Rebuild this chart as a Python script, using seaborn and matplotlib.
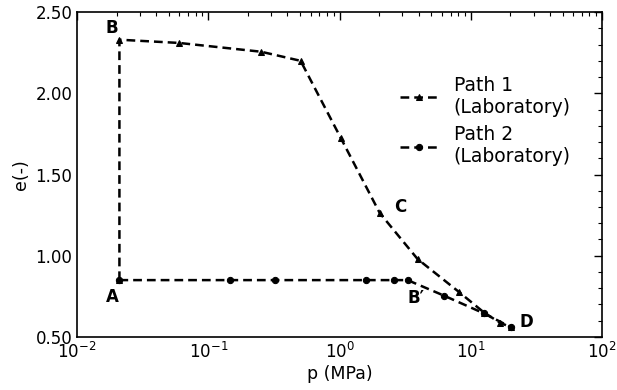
import numpy as np
import pandas as pd
import seaborn as sns
import matplotlib
matplotlib.use("Agg")
import matplotlib.pyplot as plt
from matplotlib.ticker import MultipleLocator, LogLocator, NullFormatter

# Path 1 (triangles)
p1 = [0.021, 0.021, 0.060, 0.252, 0.504, 1.02, 2.02, 3.92, 8.05, 12.6, 16.6, 20.2]
e1 = [0.85, 2.33, 2.31, 2.256, 2.20, 1.725, 1.263, 0.98, 0.779, 0.65, 0.588, 0.56]
# Path 2 (circles)
p2 = [0.021, 0.146, 0.319, 1.58, 2.6, 3.29, 6.25, 12.5, 20.2]
e2 = [0.85, 0.85, 0.85, 0.85, 0.85, 0.85, 0.754, 0.646, 0.56]

labels = ["Path 1\n(Laboratory)", "Path 2\n(Laboratory)"]
point_names = ["A", "B", "C", "B\u2032", "D"]
point_pos = [(0.0165, 0.745), (0.0165, 2.40), (2.6, 1.30), (3.3, 0.74), (23.5, 0.595)]

sns.set_style("white")
plt.rcParams['font.family'] = 'sans-serif'
plt.rcParams['font.sans-serif'] = ['DejaVu Sans']
plt.rcParams['text.color'] = 'black'
plt.rcParams['axes.labelcolor'] = 'black'

fig, ax = plt.subplots(figsize=(6.17, 3.90), dpi=100)
fig.subplots_adjust(left=0.125, right=0.976, top=0.969, bottom=0.136)

df1 = pd.DataFrame({"p": p1, "e": e1})
df2 = pd.DataFrame({"p": p2, "e": e2})
sns.lineplot(data=df1, x="p", y="e", sort=False, estimator=None, ax=ax,
             color="black", linestyle="--", marker="^", markersize=4.5,
             markeredgecolor="black", linewidth=1.8, dashes=False, label=labels[0])
sns.lineplot(data=df2, x="p", y="e", sort=False, estimator=None, ax=ax,
             color="black", linestyle="--", marker="o", markersize=4.5,
             markeredgecolor="black", linewidth=1.8, dashes=False, label=labels[1])
for ln in ax.get_lines():
    ln.set_dashes((3.5, 2.0))

ax.set_xscale("log")
ax.set_xlim(1e-2, 1e2)
ax.set_ylim(0.5, 2.5)
ax.yaxis.set_major_locator(MultipleLocator(0.5))
ax.yaxis.set_minor_locator(MultipleLocator(0.1))
ax.yaxis.set_major_formatter(matplotlib.ticker.FormatStrFormatter("%.2f"))
ax.xaxis.set_minor_locator(LogLocator(base=10, subs=np.arange(2, 10), numticks=20))
ax.xaxis.set_minor_formatter(NullFormatter())

ax.tick_params(which="both", direction="in", top=True, right=True, labelsize=12, colors="black")
ax.tick_params(which="major", length=6, width=1)
ax.tick_params(which="minor", length=3, width=0.8)
for s in ax.spines.values():
    s.set_color("black")
    s.set_linewidth(1.2)

ax.set_xlabel("p (MPa)", fontsize=12.5, labelpad=2)
ax.set_ylabel("e(-)", fontsize=12.5, labelpad=4)

for name, (x, y) in zip(point_names, point_pos):
    ax.text(x, y, name, fontsize=12, fontweight="bold", ha="left", va="center")

leg = ax.legend(loc="upper left", bbox_to_anchor=(0.583, 0.856), frameon=False,
                fontsize=13.5, handlelength=2.0, labelspacing=0.45, handletextpad=0.85)
for h in leg.get_lines():
    h.set_dashes((3.5, 2.0))

fig.savefig("out.png", dpi=100)
